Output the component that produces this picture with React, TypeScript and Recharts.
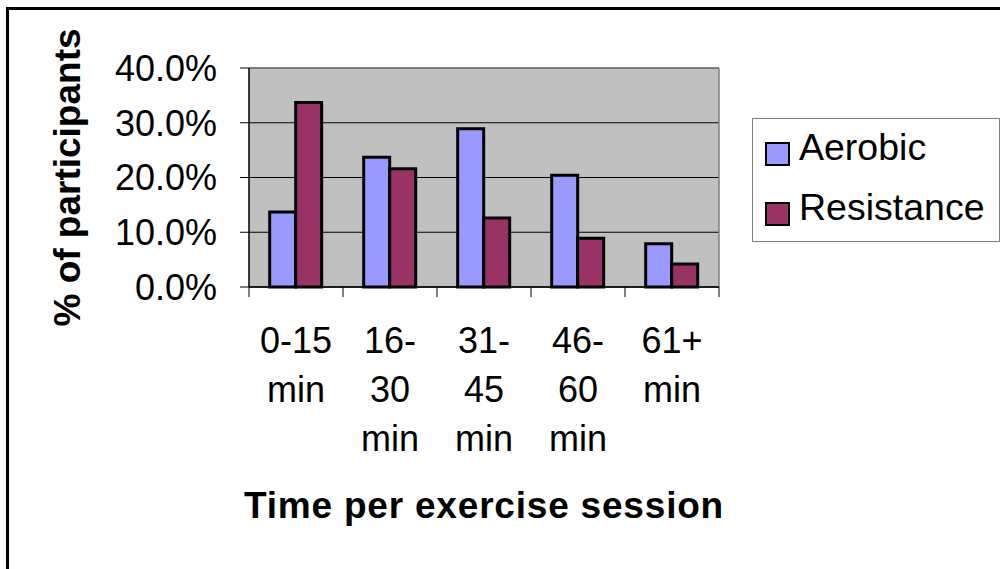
import React from "react";
import { Bar, BarChart, CartesianGrid, Legend, XAxis, YAxis } from "recharts";

const categories = ["0-15 min", "16-30 min", "31-45 min", "46-60 min", "61+ min"];
const tickLines = [
  ["0-15", "min"],
  ["16-", "30", "min"],
  ["31-", "45", "min"],
  ["46-", "60", "min"],
  ["61+", "min"],
];
const aerobic = [13.7, 23.7, 28.9, 20.4, 7.9];
const resistance = [33.7, 21.6, 12.6, 8.9, 4.2];
const yTicks = [0, 10, 20, 30, 40];

const data = categories.map((name, i) => ({
  name,
  Aerobic: aerobic[i],
  Resistance: resistance[i],
}));

const FONT = "'Liberation Sans', Arial, sans-serif";

// category labels wrap onto several lines; tick marks sit on the category edges
const SessionTick = ({ x, y, payload, visibleTicksCount }: any) => {
  const idx = categories.indexOf(payload.value);
  const lines = tickLines[idx] || [payload.value];
  const half = payload.offset || 0;
  const last = idx === (visibleTicksCount || categories.length) - 1;
  return (
    <g>
      <line x1={x - half} x2={x - half} y1={y} y2={y + 10} stroke="#000" />
      {last && <line x1={x + half} x2={x + half} y1={y} y2={y + 10} stroke="#000" />}
      <text x={x} y={y} textAnchor="middle" fontSize={36} fontFamily={FONT} fill="#000">
        {lines.map((line, i) => (
          <tspan key={i} x={x} dy={i === 0 ? 66 : 49}>
            {line}
          </tspan>
        ))}
      </text>
    </g>
  );
};

const YTitle = ({ viewBox }: any) => {
  const cy = viewBox.y + viewBox.height / 2;
  const cx = viewBox.x + 70;
  return (
    <text
      x={cx}
      y={cy}
      transform={`rotate(-90, ${cx}, ${cy})`}
      textAnchor="middle"
      fontSize={37}
      fontWeight="bold"
      fontFamily={FONT}
      fill="#000"
    >
      % of participants
    </text>
  );
};

const XTitle = ({ viewBox }: any) => (
  <text
    x={viewBox.x + viewBox.width / 2}
    y={viewBox.y + 231}
    textAnchor="middle"
    fontSize={37}
    fontWeight="bold"
    letterSpacing={0.8}
    fontFamily={FONT}
    fill="#000"
  >
    Time per exercise session
  </text>
);

const LegendBox = ({ payload }: any) => (
  <div style={{ position: "relative", width: "100%", height: "100%", fontFamily: FONT }}>
    {(payload || []).map((entry: any, i: number) => (
      <React.Fragment key={entry.value}>
        <div
          style={{
            position: "absolute",
            left: 12,
            top: 23 + i * 60,
            width: 21,
            height: 20,
            background: entry.color,
            border: "2.5px solid #000",
          }}
        />
        <div
          style={{
            position: "absolute",
            left: 46,
            top: 10 + i * 60,
            fontSize: 37.5,
            lineHeight: "36px",
            color: "#000",
            whiteSpace: "nowrap",
          }}
        >
          {entry.value}
        </div>
      </React.Fragment>
    ))}
  </div>
);

export default function App() {
  return (
    <div
      style={{
        position: "absolute",
        left: 0,
        top: 0,
        width: 1000,
        height: 569,
        overflow: "hidden",
        background: "#fff",
      }}
    >
      <div
        style={{
          position: "absolute",
          left: 6,
          top: 7,
          width: 1010,
          height: 600,
          border: "3px solid #000",
        }}
      />
      <BarChart
        width={1000}
        height={569}
        data={data}
        margin={{ top: 68, right: 281, bottom: 22, left: 10 }}
        barCategoryGap="22%"
        barGap={0}
        style={{ position: "absolute", left: 0, top: 0 }}
      >
        <CartesianGrid
          vertical={false}
          stroke="#000"
          strokeWidth={1.2}
          fill="#C0C0C0"
          fillOpacity={1}
        />
        {/* grey frame on the top and right of the plot area */}
        <CartesianGrid
          stroke="#808080"
          strokeWidth={1.5}
          horizontalCoordinatesGenerator={({ offset }: any) => [offset.top]}
          verticalCoordinatesGenerator={({ offset }: any) => [offset.left + offset.width]}
        />
        <XAxis
          dataKey="name"
          height={260}
          axisLine={{ stroke: "#000", strokeWidth: 1.5 }}
          tickLine={false}
          tickSize={0}
          tickMargin={0}
          interval={0}
          tick={<SessionTick />}
          label={<XTitle />}
        />
        <YAxis
          width={239}
          domain={[0, 40]}
          ticks={yTicks}
          tickFormatter={(v: number) => `${v.toFixed(1)}%`}
          tick={{ fontSize: 36, fill: "#000", fontFamily: FONT }}
          tickSize={9}
          tickMargin={23}
          tickLine={{ stroke: "#000", strokeWidth: 1 }}
          axisLine={{ stroke: "#000", strokeWidth: 1.5 }}
          label={<YTitle />}
        />
        <Bar
          dataKey="Aerobic"
          fill="#9999FF"
          stroke="#000"
          strokeWidth={3}
          isAnimationActive={false}
        />
        <Bar
          dataKey="Resistance"
          fill="#993366"
          stroke="#000"
          strokeWidth={3}
          isAnimationActive={false}
        />
        <Legend
          layout="vertical"
          align="center"
          verticalAlign="middle"
          content={<LegendBox />}
          wrapperStyle={{
            left: 752,
            top: 118,
            width: 248,
            height: 124,
            border: "1.5px solid #808080",
            background: "#fff",
            boxSizing: "border-box",
          }}
        />
      </BarChart>
    </div>
  );
}
